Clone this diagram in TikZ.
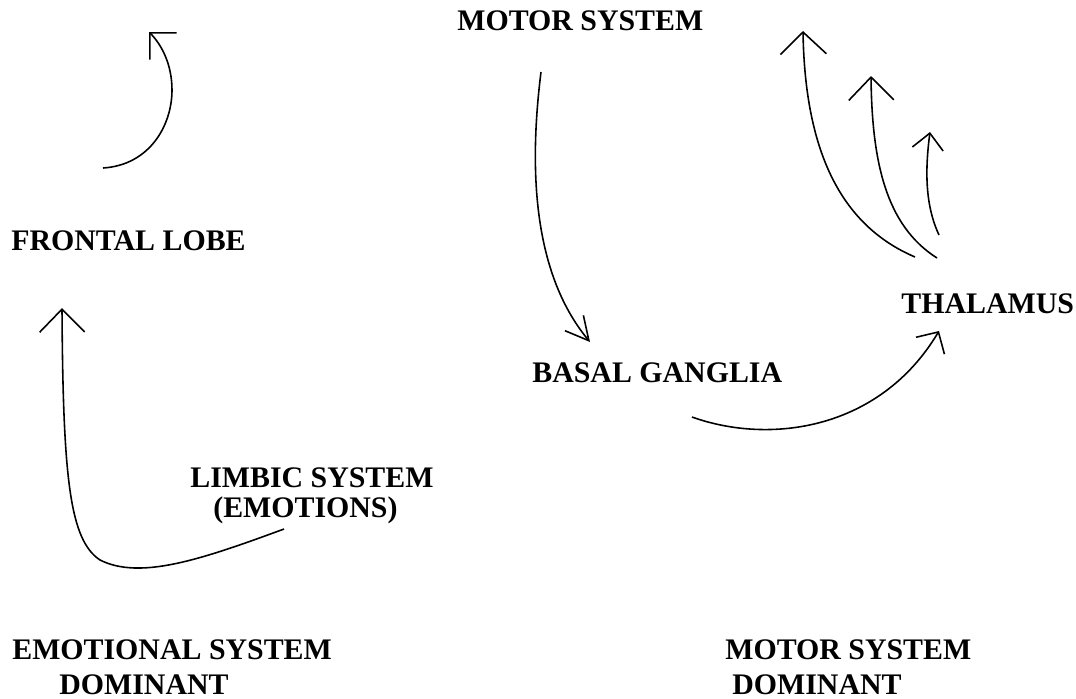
\documentclass[tikz,border=0pt]{standalone}
\usepackage{fontspec}
\setmainfont{Liberation Serif}
\usetikzlibrary{arrows.meta}

\begin{document}
\begin{tikzpicture}[
    x=0.02cm, y=-0.02cm,
    part/.style={font=\fontsize{17}{20}\selectfont\bfseries, inner sep=0pt, anchor=base west},
    barb/.style 2 args={-{Straight Barb[length=#1, width=#2]}, line width=0.9pt}
]
    \useasboundingbox (0,0) rectangle (1076,698);

    % Left side: emotional system
    \node[part] (frontal) at (11,250) {FRONTAL LOBE};
    \node[part] (limbic) at (190,487) {LIMBIC SYSTEM};
    \node[part] (emotions) at (213,517) {(EMOTIONS)};
    \node[part] (emosys) at (12,659) {EMOTIONAL SYSTEM};
    \node[part] (emodom) at (59,694) {DOMINANT};

    \coordinate (fl-out) at (103,168);
    \coordinate (fl-top) at (149,32);
    \coordinate (lim-out) at (284,529);
    \coordinate (fl-in) at (62,308);
    \draw[barb={0.38cm}{0.76cm}] (fl-out) .. controls (150,165) and (172,125) .. (172,90)
        .. controls (172,65) and (162,45) .. (fl-top);
    \draw[barb={0.46cm}{0.9cm}] (lim-out) .. controls (200,560) and (140,580) .. (100,560)
        .. controls (70,540) and (63,480) .. (fl-in);

    % Right side: motor system
    \node[part] (motor) at (457,30) {MOTOR SYSTEM};
    \node[part] (basal) at (532,382) {BASAL GANGLIA};
    \node[part] (thalamus) at (901,313) {THALAMUS};
    \node[part] (motsys) at (725,659) {MOTOR SYSTEM};
    \node[part] (motdom) at (732,694) {DOMINANT};

    \coordinate (mot-out) at (541,72);
    \coordinate (bg-in) at (590,342);
    \coordinate (bg-out) at (692,417);
    \coordinate (th-in) at (939,331);
    \draw[barb={0.46cm}{0.48cm}] (mot-out) .. controls (530,160) and (530,270) .. (bg-in);
    \draw[barb={0.32cm}{0.66cm}] (bg-out) .. controls (770,445) and (880,430) .. (th-in);

    % Thalamus back up to motor system
    \coordinate (th-a) at (915,257);
    \coordinate (th-b) at (937,258);
    \coordinate (th-c) at (939,235);
    \coordinate (up-a) at (803,31);
    \coordinate (up-b) at (871,76);
    \coordinate (up-c) at (930,132);
    \draw[barb={0.44cm}{0.92cm}] (th-a) .. controls (840,225) and (805,150) .. (up-a);
    \draw[barb={0.46cm}{0.9cm}] (th-b) .. controls (885,225) and (872,160) .. (up-b);
    \draw[barb={0.32cm}{0.62cm}] (th-c) .. controls (925,205) and (925,170) .. (up-c);
\end{tikzpicture}
\end{document}
